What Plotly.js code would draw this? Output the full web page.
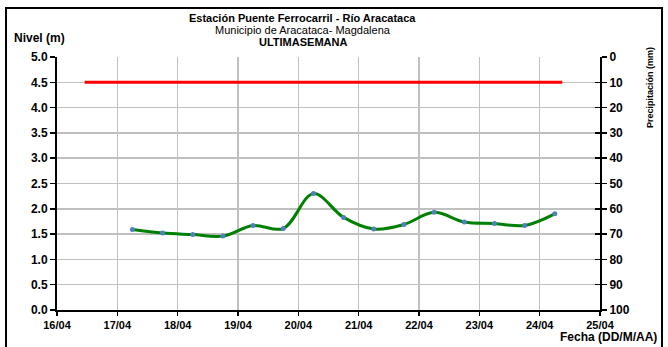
<!DOCTYPE html>
<html>
<head>
<meta charset="utf-8">
<script src="https://cdn.plot.ly/plotly-3.0.1.min.js"></script>
<style>html,body{margin:0;padding:0;background:#fff;}#chart{width:668px;height:347px;}</style>
</head>
<body>
<div id="chart"></div>
<script>
// Data
const fechas = [
  '2013-04-17 06:00','2013-04-17 18:00','2013-04-18 06:00','2013-04-18 18:00',
  '2013-04-19 06:00','2013-04-19 18:00','2013-04-20 06:00','2013-04-20 18:00',
  '2013-04-21 06:00','2013-04-21 18:00','2013-04-22 06:00','2013-04-22 18:00',
  '2013-04-23 06:00','2013-04-23 18:00','2013-04-24 06:00'
];
const nivel = [1.59,1.52,1.49,1.46,1.67,1.61,2.30,1.83,1.60,1.69,1.93,1.74,1.71,1.67,1.90];
const alertaFechas = ['2013-04-16 11:00','2013-04-24 09:00'];
const alertaNivel = [4.5, 4.5];
const xRange = ['2013-04-16','2013-04-25'];
const yRange = [0, 5];
const y2Range = [100, 0];

const F = 'Liberation Sans, Arial, sans-serif';
const traces = [
  {x: alertaFechas, y: alertaNivel, type: 'scatter', mode: 'lines',
   line: {color: '#ff0000', width: 3}, hoverinfo: 'skip', showlegend: false},
  {x: fechas, y: nivel, type: 'scatter', mode: 'lines+markers',
   line: {color: '#008000', width: 3, shape: 'spline', smoothing: 1},
   marker: {color: '#4f81bd', size: 5}, showlegend: false},
  {x: [], y: [], yaxis: 'y2', type: 'scatter', showlegend: false},
  {x: [], y: [], yaxis: 'y3', type: 'scatter', showlegend: false}
];

const tfx = {family: F, size: 11, color: '#000', weight: 'bold'};
const tfy = {family: F, size: 12, color: '#000', weight: 'bold'};
const layout = {
  width: 668, height: 347,
  margin: {l: 57, r: 68, t: 57, b: 37},
  paper_bgcolor: '#fff', plot_bgcolor: '#fff',
  showlegend: false,
  xaxis: {
    type: 'date', range: xRange, dtick: 86400000, tick0: '2013-04-16',
    tickformat: '%d/%m', showgrid: true, gridcolor: '#c0c0c0', gridwidth: 1.5,
    showline: true, linecolor: '#000', linewidth: 2,
    ticks: 'outside', ticklen: 4, tickcolor: '#000', tickwidth: 1.5,
    tickfont: tfx, zeroline: false, fixedrange: true
  },
  yaxis: {
    range: yRange, dtick: 0.5, tickformat: '.1f',
    showgrid: true, gridcolor: '#c0c0c0', gridwidth: 1.5,
    showline: true, linecolor: '#000', linewidth: 2,
    ticks: 'outside', ticklen: 5, tickcolor: '#000', tickwidth: 1.5,
    tickfont: tfy, zeroline: false, fixedrange: true
  },
  yaxis2: {
    range: y2Range, dtick: 10, overlaying: 'y', side: 'right',
    showgrid: false, showline: true, linecolor: '#000', linewidth: 2,
    ticks: 'outside', ticklen: 5, tickcolor: '#000', tickwidth: 1.5,
    tickfont: tfy, zeroline: false, fixedrange: true
  },
  yaxis3: {
    range: y2Range, dtick: 10, overlaying: 'y', side: 'right',
    showgrid: false, showline: false, showticklabels: false,
    ticks: 'inside', ticklen: 5, tickcolor: '#000', tickwidth: 1.5,
    zeroline: false, fixedrange: true
  },
  shapes: [
    {type: 'rect', xref: 'paper', yref: 'paper', x0: -0.0939, x1: 1.1142, y0: -0.2, y1: 1.194,
     line: {color: '#000', width: 2}, fillcolor: 'rgba(0,0,0,0)'}
  ],
  annotations: [
    {text: '<b>Estación Puente Ferrocarril - Río Aracataca</b>', xref: 'paper', yref: 'paper',
     x: 0.453, y: 1.156, xanchor: 'center', yanchor: 'middle', showarrow: false,
     font: {family: F, size: 11, color: '#000'}},
    {text: 'Municipio de Aracataca- Magdalena', xref: 'paper', yref: 'paper',
     x: 0.453, y: 1.107, xanchor: 'center', yanchor: 'middle', showarrow: false,
     font: {family: F, size: 11, color: '#000'}},
    {text: '<b>ULTIMASEMANA</b>', xref: 'paper', yref: 'paper',
     x: 0.453, y: 1.061, xanchor: 'center', yanchor: 'middle', showarrow: false,
     font: {family: F, size: 11, color: '#000'}},
    {text: '<b>Nivel (m)</b>', xref: 'paper', yref: 'paper',
     x: -0.083, y: 1.075, xanchor: 'left', yanchor: 'middle', showarrow: false,
     font: {family: F, size: 12, color: '#000'}},
    {text: '<b>Fecha (DD/M/AA)</b>', xref: 'paper', yref: 'paper',
     x: 1.109, y: -0.107, xanchor: 'right', yanchor: 'middle', showarrow: false,
     font: {family: F, size: 12, color: '#000'}},
    {text: '<b>Precipitación (mm)</b>', xref: 'paper', yref: 'paper',
     x: 1.092, y: 0.881, xanchor: 'center', yanchor: 'middle', showarrow: false,
     textangle: -90, font: {family: F, size: 9, color: '#000'}}
  ]
};

Plotly.newPlot('chart', traces, layout, {displayModeBar: false, staticPlot: true});
</script>
</body>
</html>
